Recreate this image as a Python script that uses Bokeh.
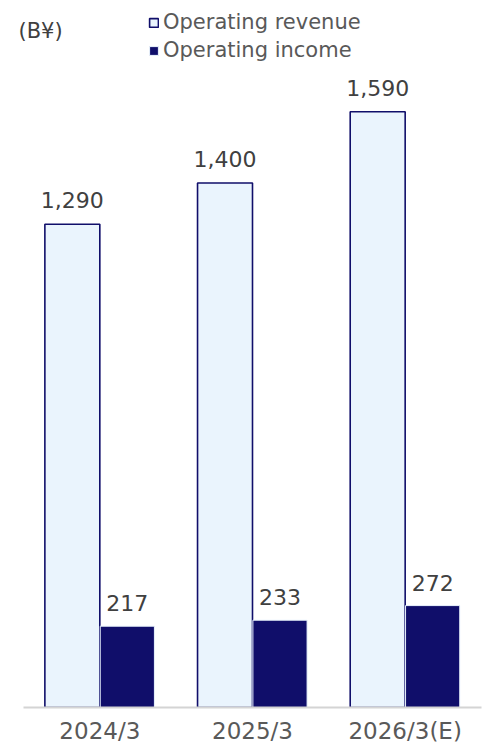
from bokeh.plotting import figure
from bokeh.models import ColumnDataSource, FactorRange, Range1d, LabelSet, Label, Legend, LegendItem
from bokeh.core.properties import value
from bokeh.transform import dodge
from bokeh.embed import file_html
from bokeh.resources import INLINE

categories = ["2024/3", "2025/3", "2026/3(E)"]
revenue = [1290, 1400, 1590]
income = [217, 233, 272]
revenue_labels = ["1,290", "1,400", "1,590"]
income_labels = ["217", "233", "272"]

NAVY = "#100E6A"
LIGHT = "#EAF4FD"
TXT = "#404040"
FONT = "DejaVu Sans"

src = ColumnDataSource(dict(cat=categories, rev=revenue, inc=income,
                            rev_lbl=revenue_labels, inc_lbl=income_labels))

p = figure(x_range=FactorRange(*categories, range_padding=0.1004), y_range=Range1d(0, 1887),
           frame_width=504, frame_height=707, output_backend="svg", toolbar_location=None,
           min_border_left=0, min_border_right=0, min_border_top=0, min_border_bottom=30)
p.outline_line_color = None
p.grid.visible = False
p.yaxis.visible = False

r1 = p.vbar(x=dodge("cat", -0.18, range=p.x_range), top="rev", width=0.36, source=src,
            fill_color=LIGHT, line_color=NAVY, line_width=1.6)
r2 = p.vbar(x=dodge("cat", 0.18, range=p.x_range), top="inc", width=0.355, source=src,
            fill_color=NAVY, line_color=LIGHT, line_width=1)

p.add_layout(LabelSet(x=dodge("cat", -0.18, range=p.x_range), y="rev", text="rev_lbl", source=src,
                      text_align="center", text_baseline="alphabetic", y_offset=16,
                      text_font=value(FONT), text_font_size=value("22px"), text_color=TXT))
p.add_layout(LabelSet(x=dodge("cat", 0.18, range=p.x_range), y="inc", text="inc_lbl", source=src,
                      text_align="center", text_baseline="alphabetic", y_offset=15,
                      text_font=value(FONT), text_font_size=value("22px"), text_color=TXT))

xa = p.xaxis[0]
xa.bounds = (0, 3)
xa.axis_line_color = "#D4D4D4"
xa.axis_line_width = 2
xa.major_tick_line_color = None
xa.minor_tick_line_color = None
xa.major_tick_out = 0
xa.major_tick_in = 0
xa.major_label_text_font = FONT
xa.major_label_text_font_size = "23px"
xa.major_label_text_color = "#595959"
xa.major_label_standoff = 10

p.add_layout(Label(x=18, y=677, x_units="screen", y_units="screen", text="(B¥)",
                   text_font=FONT, text_font_size="21px", text_color=TXT, text_baseline="middle"))

legend = Legend(items=[LegendItem(label="Operating revenue", renderers=[r1]),
                       LegendItem(label="Operating income", renderers=[r2])],
                location=(148, 643), orientation="vertical",
                glyph_width=11, glyph_height=11, label_text_font=FONT,
                label_text_font_size="21px", label_text_color="#595959",
                label_standoff=4, spacing=0, padding=0, margin=0,
                border_line_alpha=0, background_fill_alpha=0, label_height=28)
p.add_layout(legend)

open("out.html", "w").write(file_html(p, INLINE))
